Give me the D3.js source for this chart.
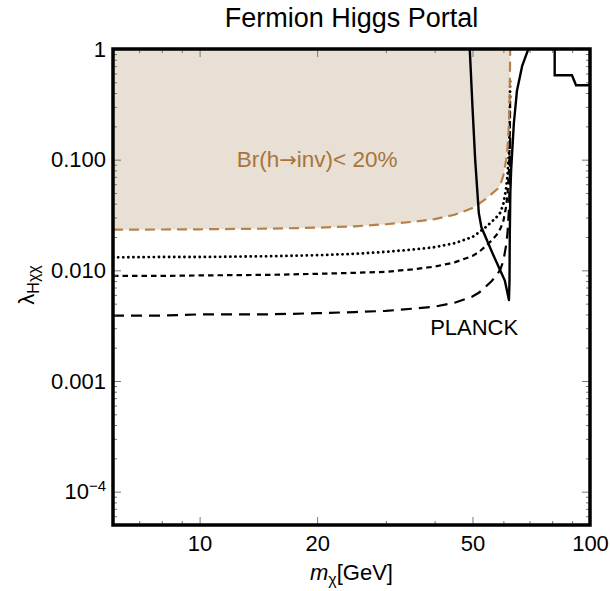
<!DOCTYPE html>
<html>
<head>
<meta charset="utf-8">
<script src="https://cdn.jsdelivr.net/npm/d3@7"></script>
<style>
  body { margin: 0; background: #fff; }
  svg { display: block; }
  text { font-family: "Liberation Sans", Arial, sans-serif; }
</style>
</head>
<body>
<svg id="chart" width="610" height="591"></svg>
<script>
// Dark-matter mass grid (GeV) shared by the invisible-width limit curves
const massGrid = [6, 8, 10, 15, 20, 25, 30, 35, 40, 45, 50, 52, 54, 56, 58, 59, 60, 61, 61.5, 62, 62.3, 62.45];

// Br(h -> inv) < 20% boundary
const brLimit = [0.0233, 0.0234, 0.0235, 0.0238, 0.0243, 0.0250, 0.0261, 0.0274, 0.0290, 0.0318, 0.0365, 0.0400, 0.0440, 0.0490, 0.0545, 0.060, 0.072, 0.100, 0.13, 0.21, 0.40, 1.0];
// Projected limits (dotted, short dashed, long dashed)
const dottedLimit = [0.0131, 0.0132, 0.0132, 0.0134, 0.0137, 0.0141, 0.0147, 0.0154, 0.0162, 0.0176, 0.0200, 0.0221, 0.0245, 0.0275, 0.0310, 0.0335, 0.040, 0.056, 0.073, 0.118, 0.22, 0.56];
const shortDashLimit = [0.0089, 0.0089, 0.0090, 0.0091, 0.0093, 0.0095, 0.0097, 0.0102, 0.0108, 0.0118, 0.0135, 0.0147, 0.0165, 0.0186, 0.0215, 0.024, 0.028, 0.038, 0.050, 0.080, 0.15, 0.38];
const longDashLimit = [0.0039, 0.0039, 0.0040, 0.0040, 0.0041, 0.0042, 0.0043, 0.0045, 0.0047, 0.0051, 0.0058, 0.0063, 0.0071, 0.0080, 0.0093, 0.0103, 0.0122, 0.017, 0.022, 0.036, 0.068, 0.17];

// PLANCK relic-density contour around the Higgs resonance
const planckMass   = [49.2, 50.0, 50.8, 51.9, 52.7, 56.3, 60.5, 62.0, 62.2, 62.3, 62.5, 62.8, 63.8, 65.0, 67.0, 69.5];
const planckLambda = [1.0, 0.3, 0.1, 0.033, 0.0245, 0.0142, 0.0081, 0.0054, 0.008, 0.02, 0.05, 0.08, 0.21, 0.42, 0.7, 1.0];
// PLANCK contour above the W threshold
const highMass   = [81.2, 81.2, 89.9, 92.1, 100];
const highLambda = [1.0, 0.58, 0.58, 0.47, 0.47];

// Axis ticks
const xTickValues = [10, 20, 50, 100];
const xTickLabels = ["10", "20", "50", "100"];
const xMinorTicks = [7, 8, 9, 30, 40, 60, 70, 80, 90];
const yTickValues = [1, 0.1, 0.01, 0.001, 1e-4];
const yTickLabels = ["1", "0.100", "0.010", "0.001", "10^-4"];
const yMinorTicks = [5e-5, 6e-5, 7e-5, 8e-5, 9e-5,
  2e-4, 3e-4, 4e-4, 5e-4, 6e-4, 7e-4, 8e-4, 9e-4,
  0.002, 0.003, 0.004, 0.005, 0.006, 0.007, 0.008, 0.009,
  0.02, 0.03, 0.04, 0.05, 0.06, 0.07, 0.08, 0.09,
  0.2, 0.3, 0.4, 0.5, 0.6, 0.7, 0.8, 0.9];

const svg = d3.select("#chart");
const plot = { left: 113, right: 590, top: 49, bottom: 525 };

const x = d3.scaleLog().domain([6, 100]).range([plot.left, plot.right]);
const y = d3.scaleLog().domain([5e-5, 1]).range([plot.bottom, plot.top]);

svg.append("defs").append("clipPath").attr("id", "plot-clip")
  .append("rect")
  .attr("x", plot.left).attr("y", plot.top)
  .attr("width", plot.right - plot.left).attr("height", plot.bottom - plot.top);

const area = svg.append("g").attr("clip-path", "url(#plot-clip)");
const line = d3.line().x(d => x(d[0])).y(d => y(d[1]));

// Excluded region: above the Br(h -> inv) boundary
const brPoints = massGrid.map((m, i) => [m, brLimit[i]]);
const shade = [[massGrid[0], 1.0], ...brPoints, [62.5, 1.0]];
area.append("path")
  .attr("d", line(shade) + "Z")
  .attr("fill", "#e8dfd5");

function curve(values, color, dash, width, cap) {
  const pts = massGrid.map((m, i) => [m, values[i]]);
  area.append("path")
    .attr("d", line(pts))
    .attr("fill", "none")
    .attr("stroke", color)
    .attr("stroke-width", width)
    .attr("stroke-dasharray", dash)
    .attr("stroke-linecap", cap || "butt");
}

curve(longDashLimit, "#000", "11 7", 2.2);
curve(shortDashLimit, "#000", "5.5 4", 2.2);
curve(dottedLimit, "#000", "0.1 5", 2.8, "round");
curve(brLimit, "#b5824a", "10 6", 2.2);

const planck = planckMass.map((m, i) => [m, planckLambda[i]]);
area.append("path")
  .attr("d", line(planck))
  .attr("fill", "none").attr("stroke", "#000").attr("stroke-width", 2.4)
  .attr("stroke-linejoin", "round");
const high = highMass.map((m, i) => [m, highLambda[i]]);
area.append("path")
  .attr("d", line(high))
  .attr("fill", "none").attr("stroke", "#000").attr("stroke-width", 2.4);

// Axes with inward ticks on all four sides
const tickColor = "#777";
function styleAxis(g) {
  g.select(".domain").remove();
  g.selectAll(".tick line").attr("stroke", tickColor).attr("stroke-width", 1);
  g.selectAll(".tick text").attr("fill", "#000").style("font-size", "22px")
    .style("font-family", "'Liberation Sans', Arial, sans-serif");
}

svg.append("g").attr("transform", `translate(0,${plot.bottom})`)
  .call(d3.axisBottom(x).tickValues(xTickValues).tickSizeInner(-8).tickSizeOuter(0)
    .tickPadding(10).tickFormat((d, i) => xTickLabels[i]))
  .call(styleAxis);
svg.append("g").attr("transform", `translate(0,${plot.bottom})`)
  .call(d3.axisBottom(x).tickValues(xMinorTicks).tickSizeInner(-4).tickSizeOuter(0).tickFormat(""))
  .call(styleAxis);
svg.append("g").attr("transform", `translate(0,${plot.top})`)
  .call(d3.axisTop(x).tickValues(xTickValues).tickSizeInner(-8).tickSizeOuter(0).tickFormat(""))
  .call(styleAxis);
svg.append("g").attr("transform", `translate(0,${plot.top})`)
  .call(d3.axisTop(x).tickValues(xMinorTicks).tickSizeInner(-4).tickSizeOuter(0).tickFormat(""))
  .call(styleAxis);

const yAxisLeft = svg.append("g").attr("transform", `translate(${plot.left},0)`)
  .call(d3.axisLeft(y).tickValues(yTickValues).tickSizeInner(-8).tickSizeOuter(0)
    .tickPadding(7).tickFormat((d, i) => yTickLabels[i]))
  .call(styleAxis);
yAxisLeft.selectAll(".tick text").each(function (d, i) {
  const label = yTickLabels[i];
  if (label.includes("^")) {
    const [base, exp] = label.split("^");
    const t = d3.select(this).text(null);
    t.append("tspan").text(base);
    t.append("tspan").attr("dy", "-0.55em").style("font-size", "15px").text(exp.replace("-", "\u2212"));
  }
});
svg.append("g").attr("transform", `translate(${plot.left},0)`)
  .call(d3.axisLeft(y).tickValues(yMinorTicks).tickSizeInner(-4).tickSizeOuter(0).tickFormat(""))
  .call(styleAxis);
svg.append("g").attr("transform", `translate(${plot.right},0)`)
  .call(d3.axisRight(y).tickValues(yTickValues).tickSizeInner(-8).tickSizeOuter(0).tickFormat(""))
  .call(styleAxis);
svg.append("g").attr("transform", `translate(${plot.right},0)`)
  .call(d3.axisRight(y).tickValues(yMinorTicks).tickSizeInner(-4).tickSizeOuter(0).tickFormat(""))
  .call(styleAxis);

// Frame
svg.append("rect")
  .attr("x", plot.left).attr("y", plot.top)
  .attr("width", plot.right - plot.left).attr("height", plot.bottom - plot.top)
  .attr("fill", "none").attr("stroke", "#000").attr("stroke-width", 3.5);

// Title
svg.append("text")
  .attr("x", (plot.left + plot.right) / 2).attr("y", 27)
  .attr("text-anchor", "middle").style("font-size", "27px")
  .text("Fermion Higgs Portal");

// Annotations
const brLabel = svg.append("text")
  .attr("x", x(20)).attr("y", 167)
  .attr("text-anchor", "middle").style("font-size", "22.5px").attr("fill", "#a8743c");
brLabel.append("tspan").text("Br(h");
brLabel.append("tspan").style("font-family", "'DejaVu Sans', sans-serif").style("font-size", "21px").text("\u2192");
brLabel.append("tspan").text("inv)< 20%");

svg.append("text")
  .attr("x", x(50.5)).attr("y", 335)
  .attr("text-anchor", "middle").style("font-size", "22px").attr("fill", "#000")
  .text("PLANCK");

// Axis titles
const xTitle = svg.append("text")
  .attr("x", (plot.left + plot.right) / 2).attr("y", 580)
  .attr("text-anchor", "middle").style("font-size", "22px");
xTitle.append("tspan").style("font-style", "italic").text("m");
xTitle.append("tspan").attr("dy", 5).style("font-size", "16px").text("\u03c7");
xTitle.append("tspan").attr("dy", -5).text("[GeV]");

const yTitle = svg.append("text")
  .attr("transform", `translate(34,285) rotate(-90)`)
  .attr("text-anchor", "middle").style("font-size", "22px");
yTitle.append("tspan").text("\u03bb");
yTitle.append("tspan").attr("dy", 5).style("font-size", "16px").text("H\u03c7\u03c7");
</script>
</body>
</html>
